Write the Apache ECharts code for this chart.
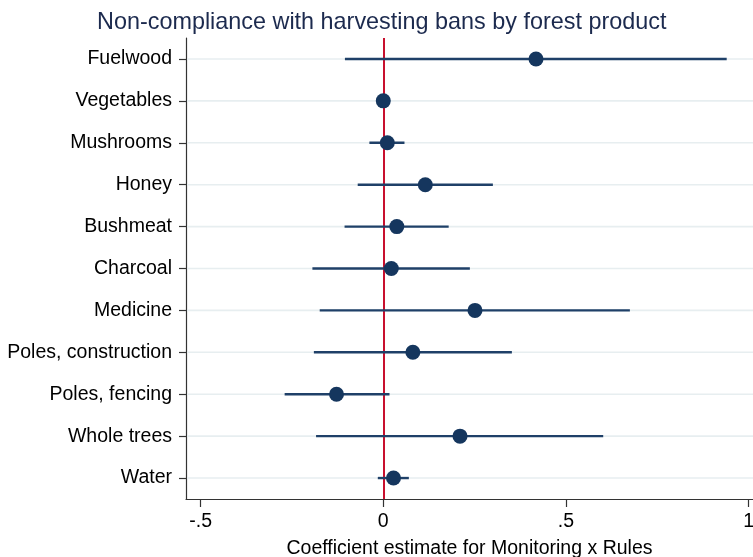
<!DOCTYPE html>
<html>
<head>
<meta charset="utf-8">
<script src="https://cdn.jsdelivr.net/npm/echarts@6/dist/echarts.min.js"></script>
<style>
  html, body { margin: 0; padding: 0; background: #fff; }
  #chart { width: 753px; height: 557px; }
</style>
</head>
<body>
<div id="chart"></div>
<script>
// Forest products, top to bottom
const products = ['Fuelwood', 'Vegetables', 'Mushrooms', 'Honey', 'Bushmeat', 'Charcoal',
  'Medicine', 'Poles, construction', 'Poles, fencing', 'Whole trees', 'Water'];
// Point estimates and confidence bounds
const estimate = [0.418, 0.0, 0.011, 0.115, 0.037, 0.022, 0.251, 0.081, -0.128, 0.210, 0.028];
const ciLow    = [-0.105, -0.004, -0.038, -0.070, -0.106, -0.194, -0.174, -0.190, -0.270, -0.184, -0.015];
const ciHigh   = [0.940, 0.004, 0.058, 0.300, 0.179, 0.237, 0.675, 0.352, 0.017, 0.602, 0.070];
// x-axis ticks
const xTicks = [-0.5, 0, 0.5, 1];
const xTickLabels = ['-.5', '0', '.5', '1'];

const font = '"Liberation Sans", Arial, Helvetica, sans-serif';
const chart = echarts.init(document.getElementById('chart'), null, { renderer: 'canvas' });

chart.setOption({
  animation: false,
  backgroundColor: '#ffffff',
  title: {
    text: 'Non-compliance with harvesting bans by forest product',
    left: 92,
    top: 6,
    textStyle: { fontFamily: font, fontSize: 23.4, fontWeight: 'normal', color: '#1c2a4e' }
  },
  grid: {
    left: 186, right: 0, top: 38, bottom: 58,
    containLabel: false,
    outerBoundsMode: 'none'
  },
  xAxis: {
    type: 'value',
    min: -0.54,
    max: 1.012,
    name: 'Coefficient estimate for Monitoring x Rules',
    nameLocation: 'middle',
    nameGap: 40,
    nameTextStyle: { fontFamily: font, fontSize: 19.5, color: '#000' },
    axisLine: { show: true, onZero: false, lineStyle: { color: '#333', width: 1.2 } },
    axisTick: { show: true, length: 8, customValues: xTicks, lineStyle: { color: '#333', width: 1.2 } },
    axisLabel: {
      customValues: xTicks,
      fontFamily: font, fontSize: 19.5, color: '#000', margin: 13,
      formatter: v => xTickLabels[xTicks.findIndex(t => Math.abs(t - v) < 1e-9)]
    },
    splitLine: { show: false }
  },
  yAxis: {
    type: 'category',
    data: products,
    inverse: true,
    boundaryGap: true,
    axisLine: { show: true, onZero: false, lineStyle: { color: '#333', width: 1.2 } },
    axisTick: { show: true, alignWithLabel: true, length: 7, lineStyle: { color: '#333', width: 1.2 } },
    axisLabel: { fontFamily: font, fontSize: 19.5, color: '#000', margin: 14 },
    splitLine: { show: false }
  },
  series: [
    {
      // horizontal gridline per product
      type: 'custom',
      silent: true,
      z: 1,
      data: products.map((p, i) => [i]),
      renderItem: (params, api) => {
        const idx = api.value(0);
        const y = api.coord([0, idx])[1];
        const cs = params.coordSys;
        return {
          type: 'line',
          shape: { x1: cs.x + 1, y1: y, x2: cs.x + cs.width, y2: y },
          style: { stroke: '#e7eef0', lineWidth: 1.6 }
        };
      }
    },
    {
      // confidence intervals
      type: 'custom',
      z: 3,
      data: products.map((p, i) => [ciLow[i], ciHigh[i], i]),
      renderItem: (params, api) => {
        const a = api.coord([api.value(0), api.value(2)]);
        const b = api.coord([api.value(1), api.value(2)]);
        return {
          type: 'line',
          shape: { x1: a[0], y1: a[1], x2: b[0], y2: b[1] },
          style: { stroke: '#1f4068', lineWidth: 2.4 }
        };
      }
    },
    {
      type: 'scatter',
      z: 5,
      symbol: 'circle',
      symbolSize: 15,
      itemStyle: { color: '#15365e', opacity: 1 },
      data: products.map((p, i) => [estimate[i], p]),
      markLine: {
        silent: true,
        symbol: 'none',
        label: { show: false },
        lineStyle: { color: '#c8102e', width: 2, type: 'solid' },
        data: [{ xAxis: 0 }],
        z: 2
      }
    }
  ]
});
</script>
</body>
</html>
